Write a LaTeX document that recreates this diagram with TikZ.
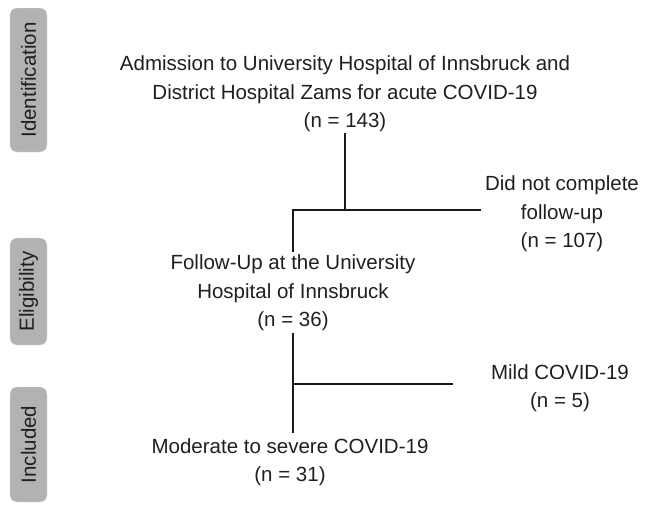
\documentclass[tikz,border=0pt]{standalone}
\usepackage{fontspec}
\setmainfont{Liberation Sans}
\begin{document}
\begin{tikzpicture}[x=1pt,y=-1pt,
  txt/.style={align=center,inner sep=0pt,text=black!88,font=\fontsize{20.5}{28.5}\selectfont},
  side/.style={draw=black!12,fill=black!30,rounded corners=7pt},
  sidetxt/.style={rotate=90,inner sep=0pt,text=black!88,font=\fontsize{20.5}{22}\selectfont},
  conn/.style={line width=1.4pt,black!90}]
\useasboundingbox (0,0) rectangle (647,512);
% side labels
\draw[side] (10,8) rectangle (47,152);
\node[sidetxt] (sid) at (28.5,80) {Identification};
\draw[side] (10,238) rectangle (47,345);
\node[sidetxt] (sel) at (28.5,291.5) {Eligibility};
\draw[side] (10,387) rectangle (47,502);
\node[sidetxt] (sin) at (28.5,444.5) {Included};
% texts
\node[txt] (adm) at (345,94) {Admission to University Hospital of Innsbruck and\\District Hospital Zams for acute COVID-19\\(n = 143)};
\node[txt] (dnc) at (562,214) {Did not complete\\follow-up\\(n = 107)};
\node[txt] (fu) at (293,293) {Follow-Up at the University\\Hospital of Innsbruck\\(n = 36)};
\node[txt] (mild) at (560,388) {Mild COVID-19\\(n = 5)};
\node[txt] (mod) at (290,462) {Moderate to severe COVID-19\\(n = 31)};
% connector coordinates
\coordinate (a1) at (345,133);
\coordinate (a2) at (345,210);
\coordinate (b1) at (293,210);
\coordinate (b2) at (481,210);
\coordinate (b3) at (293,252);
\coordinate (c1) at (293,333);
\coordinate (c2) at (293,384);
\coordinate (c3) at (453,384);
\coordinate (c4) at (293,433);
\draw[conn] (a1) -- (a2);
\draw[conn] (b3) -- (b1) -- (b2);
\draw[conn] (c1) -- (c4);
\draw[conn] (c2) -- (c3);
\end{tikzpicture}
\end{document}
